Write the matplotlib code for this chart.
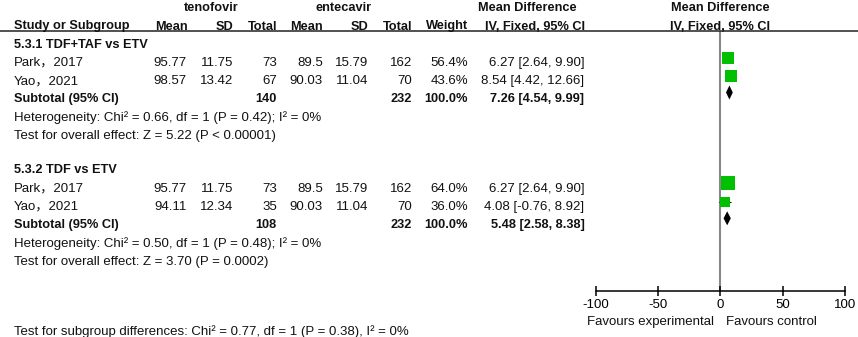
import matplotlib.pyplot as plt
import numpy as np
from matplotlib.lines import Line2D

subgroups = ['5.3.1 TDF+TAF vs ETV', '5.3.2 TDF vs ETV']
study = ['Park，2017', 'Yao，2021', 'Park，2017', 'Yao，2021']
study_group = [0, 0, 1, 1]
exp_mean = [95.77, 98.57, 95.77, 94.11]
exp_sd = [11.75, 13.42, 11.75, 12.34]
exp_n = [73, 67, 73, 35]
ctl_mean = [89.5, 90.03, 89.5, 90.03]
ctl_sd = [15.79, 11.04, 15.79, 11.04]
ctl_n = [162, 70, 162, 70]
weight = [56.4, 43.6, 64.0, 36.0]
md = [6.27, 8.54, 6.27, 4.08]
md_lo = [2.64, 4.42, 2.64, -0.76]
md_hi = [9.90, 12.66, 9.90, 8.92]

sub_exp_n = [140, 108]
sub_ctl_n = [232, 232]
sub_md = [7.26, 5.48]
sub_lo = [4.54, 2.58]
sub_hi = [9.99, 8.38]
heterogeneity = ['Heterogeneity: Chi² = 0.66, df = 1 (P = 0.42); I² = 0%',
                 'Heterogeneity: Chi² = 0.50, df = 1 (P = 0.48); I² = 0%']
overall = ['Test for overall effect: Z = 5.22 (P < 0.00001)',
           'Test for overall effect: Z = 3.70 (P = 0.0002)']
subgroup_diff = 'Test for subgroup differences: Chi² = 0.77, df = 1 (P = 0.38), I² = 0%'

ticks = [-100, -50, 0, 50, 100]

W, H = 858, 337
FONT = ['Liberation Sans', 'Noto Sans CJK SC', 'DejaVu Sans']
FS = 9.5
FS_BOLD = 9.2
GREEN = '#00c000'

fig = plt.figure(figsize=(W / 100, H / 100), dpi=100)


def put(x, y, s, ha='left', bold=False):
    # x, y in image pixels (y = baseline, from top)
    fig.text(x / W, 1 - y / H, s, ha=ha, va='baseline',
             fontsize=FS_BOLD if bold else FS,
             fontweight='bold' if bold else 'normal', family=FONT, color='#111111')


# column right edges
cols = [186.5, 233, 277, 323, 368, 412, 468, 584.5]

# headers
put(211, 11, 'tenofovir', ha='center', bold=True)
put(344, 11, 'entecavir', ha='center', bold=True)
put(527, 11, 'Mean Difference', ha='center', bold=True)
put(720, 11, 'Mean Difference', ha='center', bold=True)
put(14, 29.5, 'Study or Subgroup', bold=True)
for x, s in zip([188, 233, 277, 323, 368, 412, 468, 585],
                ['Mean', 'SD', 'Total', 'Mean', 'SD', 'Total', 'Weight', 'IV, Fixed, 95% CI']):
    put(x, 29.5, s, ha='right', bold=True)
put(720, 29.5, 'IV, Fixed, 95% CI', ha='center', bold=True)
fig.add_artist(Line2D([0, 1], [1 - 31 / H, 1 - 31 / H], color='#222222', lw=1.1))

# forest panel: x in effect units, y in image pixels
ax = fig.add_axes([595.7 / W, 1 - 291 / H, (845 - 595.7) / W, (291 - 31) / H])
ax.set_xlim(-100, 100)
ax.set_ylim(291, 31)
ax.axvline(0, color='#888888', lw=1.5, zorder=1)

step = 18.3
starts = [47.5, 173.3]
for g, base in enumerate(starts):
    put(14, base, subgroups[g], bold=True)
    rows = [i for i in range(len(study)) if study_group[i] == g]
    for k, i in enumerate(rows):
        y = base + step * (k + 1)
        vals = [f'{exp_mean[i]:g}', f'{exp_sd[i]:.2f}', str(exp_n[i]),
                f'{ctl_mean[i]:g}', f'{ctl_sd[i]:.2f}', str(ctl_n[i]),
                f'{weight[i]:.1f}%', f'{md[i]:.2f} [{md_lo[i]:.2f}, {md_hi[i]:.2f}]']
        put(14, y, study[i])
        for x, s in zip(cols, vals):
            put(x, y, s, ha='right')
        ym = y - 8.3
        ax.hlines(ym, md_lo[i], md_hi[i], color='black', lw=0.8, zorder=2)
        ax.plot(md[i], ym, marker='s', ms=1.7 * np.sqrt(weight[i]) * 0.72,
                color=GREEN, mew=0, zorder=3)
    y = base + step * 3
    put(14, y, 'Subtotal (95% CI)', bold=True)
    put(cols[2], y, str(sub_exp_n[g]), ha='right', bold=True)
    put(cols[5], y, str(sub_ctl_n[g]), ha='right', bold=True)
    put(cols[6], y, '100.0%', ha='right', bold=True)
    put(cols[7], y, f'{sub_md[g]:.2f} [{sub_lo[g]:.2f}, {sub_hi[g]:.2f}]', ha='right', bold=True)
    yd = y - 9.9
    ax.fill([sub_lo[g], sub_md[g], sub_hi[g], sub_md[g]],
            [yd, yd - 7, yd, yd + 7], color='black', lw=0, zorder=3)
    put(14, base + step * 4, heterogeneity[g])
    put(14, base + step * 5, overall[g])

for sp in ['left', 'right', 'top']:
    ax.spines[sp].set_visible(False)
ax.spines['bottom'].set_linewidth(1.1)
ax.set_yticks([])
ax.set_xticks(ticks)
ax.set_xticklabels([str(t) for t in ticks], family=FONT, fontsize=FS)
ax.tick_params(axis='x', direction='inout', length=6.5, width=1.1, pad=2.5)
ax.patch.set_visible(False)

put(714, 325, 'Favours experimental', ha='right')
put(726, 325, 'Favours control')
put(14, 335.5, subgroup_diff)

fig.savefig('out.png', dpi=100)
